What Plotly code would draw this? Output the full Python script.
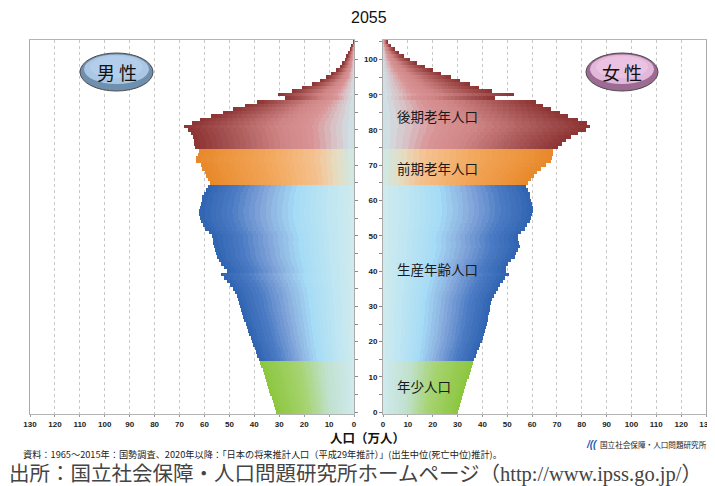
import plotly.graph_objects as go

# ---------------- data (万人) ----------------
ages = list(range(0, 106))
male = [
    31.3, 31.8, 32.2, 32.7, 33.1, 33.6, 34.0, 34.5, 34.9, 35.4,
    35.8, 36.3, 36.7, 37.2, 37.6, 38.0, 38.8, 39.3, 39.8, 40.4,
    41.0, 41.5, 42.0, 42.5, 43.0, 43.5, 44.0, 44.4, 44.8, 45.3,
    45.8, 46.2, 46.6, 47.1, 47.8, 48.5, 49.6, 50.8, 52.3, 53.5,
    51.1, 52.0, 53.3, 54.3, 55.1, 55.5, 55.8, 56.3, 56.7, 56.6,
    56.8, 58.0, 59.6, 60.5, 61.2, 61.8, 62.0, 62.1, 61.9, 61.5,
    61.1, 60.8, 60.2, 59.4, 58.5, 57.8, 58.5, 59.4, 59.8, 60.8,
    61.3, 63.5, 63.5, 62.5, 62.2, 63.8, 64.0, 64.3, 64.8, 65.6,
    66.5, 68.2, 65.0, 61.8, 57.2, 52.5, 48.5, 43.8, 39.1, 27.7,
    30.4, 25.0, 21.0, 17.0, 13.7, 11.2, 9.0, 6.9, 5.6, 4.5,
    3.6, 2.9, 2.3, 1.6, 0.9, 0.4,
]
female = [
    30.0, 30.5, 30.9, 31.4, 31.8, 32.3, 32.7, 33.2, 33.6, 34.0,
    34.5, 34.9, 35.4, 35.8, 36.3, 36.8, 37.4, 38.0, 38.6, 39.2,
    39.8, 40.3, 40.7, 41.1, 41.4, 41.8, 42.1, 42.4, 42.7, 43.0,
    43.2, 43.5, 43.9, 44.6, 45.4, 46.3, 47.2, 48.1, 49.0, 50.6,
    49.4, 49.6, 50.5, 51.6, 53.0, 53.6, 54.2, 55.0, 54.6, 54.3,
    54.5, 55.6, 57.0, 58.0, 59.0, 59.6, 60.0, 60.3, 60.3, 60.0,
    59.6, 59.3, 59.0, 58.2, 57.6, 58.5, 59.6, 60.8, 62.0, 63.7,
    65.8, 67.5, 68.2, 68.5, 68.5, 70.4, 72.0, 73.7, 75.7, 78.4,
    81.5, 83.3, 82.0, 78.5, 74.5, 71.2, 67.8, 64.5, 61.5, 45.0,
    52.7, 44.0, 38.5, 35.0, 31.0, 27.5, 23.5, 20.0, 16.7, 13.7,
    10.6, 8.3, 6.2, 4.6, 3.2, 1.9,
]
pop_ticks = list(range(0, 131, 10))
age_ticks = list(range(0, 106, 5))
age_tick_text = [str(a) if (a % 10 == 0 and a <= 100) else "" for a in age_ticks]
group_names = ["年少人口", "生産年齢人口", "前期老年人口", "後期老年人口"]
group_start = [0, 15, 65, 75]
group_label_age = [7.4, 40.6, 69.2, 83.9]
title_text = "2055"

# ---------------- styles ----------------
scales = [
    [(0.0, "#d0e9ee"), (0.3, "#c0e1cf"), (0.6, "#a6d36f"), (1.0, "#8cc63f")],
    [(0.0, "#d0eaee"), (0.15, "#c0e6f2"), (0.38, "#a6dcf6"), (0.58, "#87aadc"), (0.8, "#4a7ac3"), (1.0, "#3064b1")],
    [(0.0, "#cde9e6"), (0.12, "#e6dcc0"), (0.25, "#f5c08f"), (0.55, "#f2a75a"), (1.0, "#e8882a")],
    [(0.0, "#cfe4e8"), (0.12, "#d8c4c8"), (0.25, "#d99496"), (0.45, "#cf8585"), (0.75, "#a85555"), (1.0, "#8c3333")],
]


def h2r(h):
    return tuple(int(h[i:i + 2], 16) for i in (1, 3, 5))


def interp(scale, t):
    for (t0, c0), (t1, c1) in zip(scale[:-1], scale[1:]):
        if t0 <= t <= t1:
            f = (t - t0) / (t1 - t0) if t1 > t0 else 0
            a, b = h2r(c0), h2r(c1)
            return "rgb(%d,%d,%d)" % tuple(round(a[i] + (b[i] - a[i]) * f) for i in range(3))
    return scale[-1][1]


def group_of(age):
    g = 0
    for i, s in enumerate(group_start):
        if age >= s:
            g = i
    return g


N = 28
fig = go.Figure()
for k in range(N):
    t = (k + 0.5) / N
    cols = [interp(scales[group_of(a)], t) for a in ages]
    fig.add_trace(go.Bar(y=ages, x=[v / N for v in male], orientation="h",
                         xaxis="x", yaxis="y", marker=dict(color=cols, line=dict(width=0)),
                         showlegend=False, hoverinfo="skip"))
    fig.add_trace(go.Bar(y=ages, x=[v / N for v in female], orientation="h",
                         xaxis="x2", yaxis="y2", marker=dict(color=cols, line=dict(width=0)),
                         showlegend=False, hoverinfo="skip"))

# page body has an 8px margin: work in screen pixels and subtract it
OFF = 8
W, H = 715 - OFF, 486 - OFF
top, bottom = 40 - OFF, 414 - OFF


def px(x):
    return (x - OFF) / W


def py(y):
    return (bottom - (y - OFF)) / (bottom - top)


tickfont = dict(family="Arial", size=8, color="#222", weight="bold")
common_x = dict(tickvals=pop_ticks, showgrid=True, gridcolor="#c8c8c8", griddash="dot",
                gridwidth=1, showline=True, linecolor="#b4b4b4", mirror=True, ticks="outside",
                ticklen=2, tickcolor="#999", tickfont=tickfont, zeroline=False, fixedrange=True)
common_y = dict(range=[-0.5, 105.5], tickvals=age_ticks, ticks="outside", ticklen=3,
                tickcolor="#888", showline=True, linecolor="#aaaaaa", mirror=True,
                showgrid=False, zeroline=False)

fig.update_layout(
    width=W, height=H, barmode="stack", bargap=0,
    paper_bgcolor="white", plot_bgcolor="white",
    margin=dict(l=0, r=0, t=top, b=H - bottom, autoexpand=False),
    xaxis=dict(domain=[px(30), px(354)], range=[130, 0], anchor="y", **common_x),
    xaxis2=dict(domain=[px(383), px(706)], range=[0, 130], anchor="y2", **common_x),
    yaxis=dict(anchor="x", side="right", showticklabels=False, **common_y),
    yaxis2=dict(anchor="x2", side="left", ticktext=age_tick_text, tickfont=tickfont, **common_y),
)

# group labels inside the female panel
for name, a in zip(group_names, group_label_age):
    fig.add_annotation(x=5, y=a, xref="x2", yref="y2", text=name, showarrow=False,
                       xanchor="left", yanchor="middle",
                       font=dict(family="Noto Sans CJK JP", size=13.5, color="#1a1a1a"))


def ellipse(x0, x1, y0, y1, dark, light, label):
    fig.add_shape(type="circle", xref="paper", yref="paper",
                  x0=px(x0), x1=px(x1), y0=py(y1), y1=py(y0),
                  fillcolor=dark, line=dict(color="#4a4a4a", width=1))
    fig.add_shape(type="circle", xref="paper", yref="paper",
                  x0=px(x0 + 4), x1=px(x1 - 4), y0=py(y1 - 7), y1=py(y0 + 1.5),
                  fillcolor=light, line=dict(width=0), opacity=0.85)
    fig.add_shape(type="circle", xref="paper", yref="paper",
                  x0=px(x0 + 10), x1=px(x1 - 10), y0=py(y1 - 13), y1=py(y0 + 3),
                  fillcolor=light, line=dict(width=0), opacity=0.7)
    fig.add_annotation(x=px((x0 + x1) / 2), y=py((y0 + y1) / 2), xref="paper", yref="paper",
                       text=label, showarrow=False, xanchor="center", yanchor="middle",
                       font=dict(family="Noto Sans CJK JP", size=18, color="#111"))


ellipse(80, 153, 53, 91, "#6f8fae", "#b7d1ec", "男 性")
ellipse(586, 658, 53, 91, "#9c6a92", "#efc6e6", "女 性")


def note(x, y, text, font, xanchor="center"):
    fig.add_annotation(x=px(x), y=py(y), xref="paper", yref="paper", text=text,
                       showarrow=False, xanchor=xanchor, yanchor="middle", font=font)


note(369, 18, title_text, dict(family="Arial", size=16, color="#111"))
note(367, 437.5, "人口（万人）", dict(family="Noto Sans CJK JP", size=12.5, color="#111", weight="bold"))
note(21, 454, "資料：1965～2015年：国勢調査、2020年以降：「日本の将来推計人口（平成29年推計）」(出生中位(死亡中位)推計)。",
     dict(family="Noto Sans CJK JP", size=9.2, color="#222"), xanchor="left")
note(584, 444, "<i><b>/((</b></i>", dict(family="Arial", size=10, color="#2a5ab0"), xanchor="left")
note(598, 444, "国立社会保障・人口問題研究所", dict(family="Noto Sans CJK JP", size=7.6, color="#222"), xanchor="left")
note(7, 474, "出所：国立社会保障・人口問題研究所ホームページ（http://www.ipss.go.jp/）",
     dict(family="Liberation Serif, Noto Sans CJK JP", size=20.5, color="#444"), xanchor="left")

fig.write_html("out.html")
